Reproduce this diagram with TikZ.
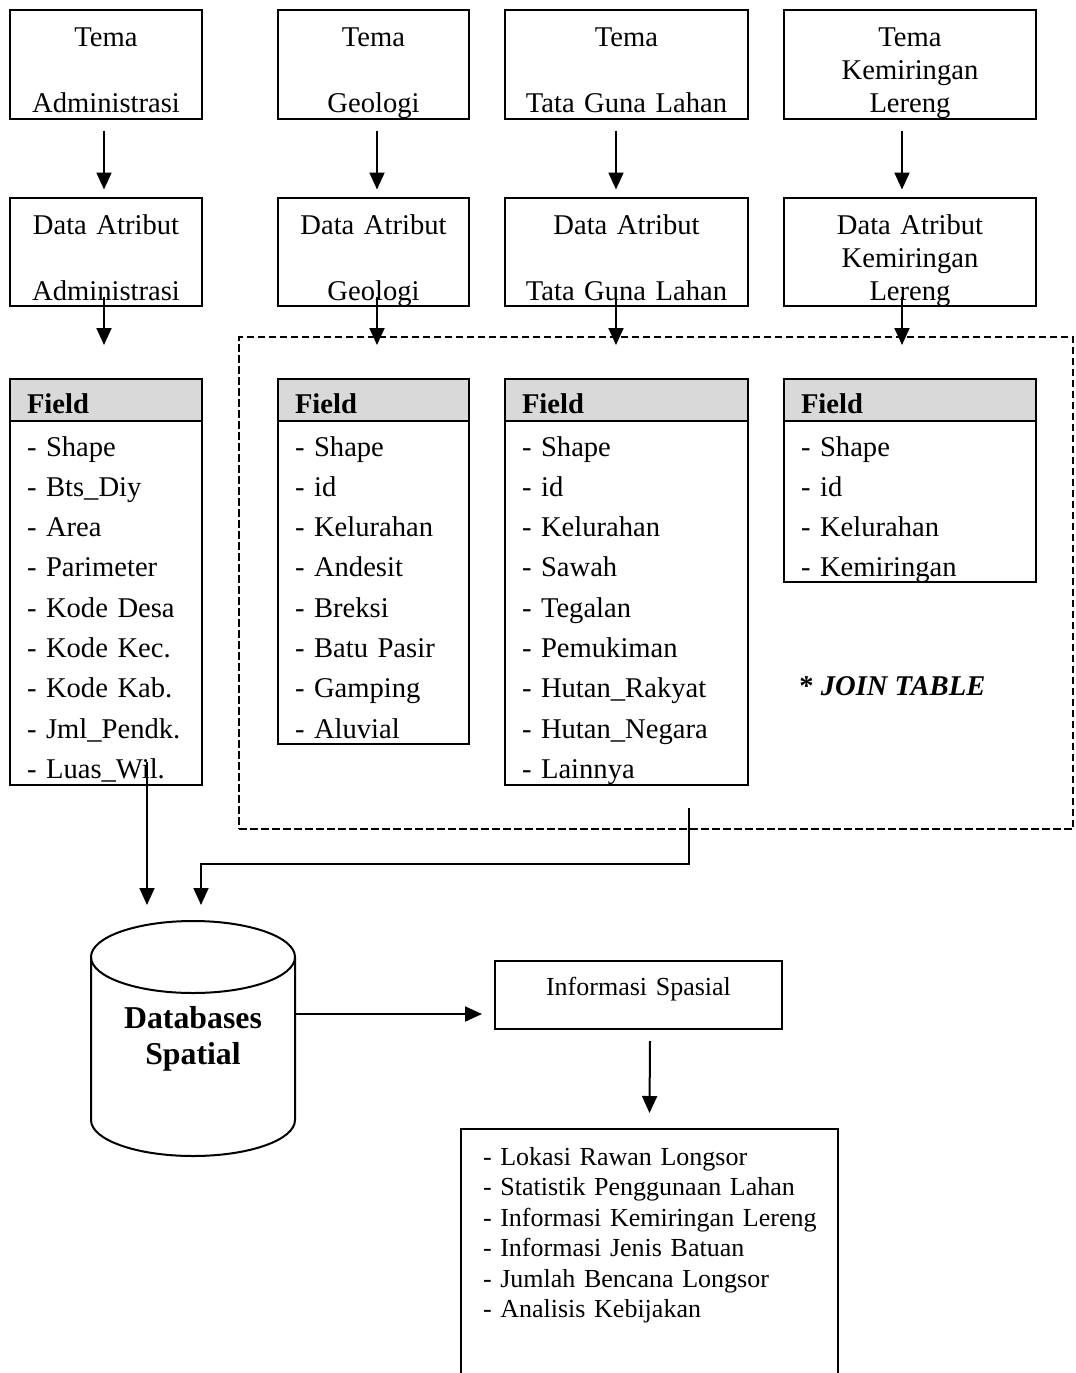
\documentclass[tikz,border=0pt]{standalone}
\usepackage{fontspec}
\setmainfont{Liberation Serif}
\usetikzlibrary{arrows.meta, positioning}

\begin{document}
\begin{tikzpicture}[
  x=0.5pt, y=-0.5pt,
  >={Triangle[length=8.5pt, width=7.5pt]},
  arr/.style={draw=black, line width=1pt, ->},
  link/.style={draw=black, line width=0.9pt, ->},
  tema/.style={rectangle, draw=black, line width=1pt, inner sep=0pt, outer sep=0pt,
    align=center, text height=18.25pt, text depth=36pt,
    font=\fontsize{14.3}{16.5}\selectfont},
  fhead/.style={rectangle, draw=black, line width=1pt, fill=gray!30, outer sep=0pt,
    inner xsep=8.5pt, inner ysep=0pt, align=left, text height=17pt, text depth=4pt,
    font=\fontsize{14.3}{16.5}\selectfont\bfseries},
  fbody/.style={rectangle, draw=black, line width=1pt, inner xsep=8.5pt, outer sep=0pt,
    inner ysep=0pt, align=left, text height=17.5pt,
    font=\fontsize{14.3}{20.15}\selectfont},
  infotext/.style={font=\fontsize{13}{15.25}\selectfont},
]

% Page frame
\useasboundingbox (0,0) rectangle (1076,1373);

% === Row 1: themes ===
\node[tema, text width=96pt, anchor=north west] (temaA) at (10,10) {Tema\\\mbox{}\\Administrasi};
\node[tema, text width=95.5pt, right=38pt of temaA] (temaB) {Tema\\\mbox{}\\Geologi};
\node[tema, text width=121.5pt, right=18pt of temaB] (temaC) {Tema\\\mbox{}\\Tata Guna Lahan};
\node[tema, text width=126pt, right=18pt of temaC] (temaD) {Tema\\Kemiringan\\Lereng};

% === Row 2: attribute data ===
\node[tema, text width=96pt, below=39.5pt of temaA] (dataA) {Data Atribut\\\mbox{}\\Administrasi};
\node[tema, text width=95.5pt, below=39.5pt of temaB] (dataB) {Data Atribut\\\mbox{}\\Geologi};
\node[tema, text width=121.5pt, below=39.5pt of temaC] (dataC) {Data Atribut\\\mbox{}\\Tata Guna Lahan};
\node[tema, text width=126pt, below=39.5pt of temaD] (dataD) {Data Atribut\\Kemiringan\\Lereng};

\draw[arr] ([xshift=-1pt,yshift=-6pt]temaA.south) -- ([xshift=-1pt,yshift=4pt]dataA.north);
\draw[arr] ([xshift=1.75pt,yshift=-6pt]temaB.south) -- ([xshift=1.75pt,yshift=4pt]dataB.north);
\draw[arr] ([xshift=-5.25pt,yshift=-6pt]temaC.south) -- ([xshift=-5.25pt,yshift=4pt]dataC.north);
\draw[arr] ([xshift=-4pt,yshift=-6pt]temaD.south) -- ([xshift=-4pt,yshift=4pt]dataD.north);

% === Join area ===
\node[draw=black, line width=1pt, dash pattern=on 3.75pt off 1.75pt, minimum width=417pt,
  minimum height=246pt, inner sep=0pt, outer sep=0pt, anchor=north west] (join) at (239,337) {};
\node[font=\fontsize{14.3}{16.5}\selectfont\bfseries, inner sep=0pt, anchor=base west]
  (jointag) at (799,695) {* \textit{JOIN TABLE}};

% === Row 3: field tables ===
\node[fhead, text width=79pt, below=36.5pt of dataA] (fieldA) {Field};
\node[fbody, text width=79pt, text depth=164.5pt, below=0pt of fieldA] (listA)
  {- Shape\\- Bts\_Diy\\- Area\\- Parimeter\\- Kode Desa\\- Kode Kec.\\- Kode Kab.\\- Jml\_Pendk.\\- Luas\_Wil.};

\node[fhead, text width=78.5pt, below=36.5pt of dataB] (fieldB) {Field};
\node[fbody, text width=78.5pt, text depth=144pt, below=0pt of fieldB] (listB)
  {- Shape\\- id\\- Kelurahan\\- Andesit\\- Breksi\\- Batu Pasir\\- Gamping\\- Aluvial};

\node[fhead, text width=104.5pt, below=36.5pt of dataC] (fieldC) {Field};
\node[fbody, text width=104.5pt, text depth=164.5pt, below=0pt of fieldC] (listC)
  {- Shape\\- id\\- Kelurahan\\- Sawah\\- Tegalan\\- Pemukiman\\- Hutan\_Rakyat\\- Hutan\_Negara\\- Lainnya};

\node[fhead, text width=109pt, below=36.5pt of dataD] (fieldD) {Field};
\node[fbody, text width=109pt, text depth=63pt, below=0pt of fieldD] (listD)
  {- Shape\\- id\\- Kelurahan\\- Kemiringan};

\draw[arr] ([xshift=-1pt,yshift=4.5pt]dataA.south) -- ([xshift=-1pt,yshift=17pt]fieldA.north);
\draw[arr] ([xshift=1.75pt,yshift=4.5pt]dataB.south) -- ([xshift=1.75pt,yshift=17pt]fieldB.north);
\draw[arr] ([xshift=-5.25pt,yshift=4.5pt]dataC.south) -- ([xshift=-5.25pt,yshift=17pt]fieldC.north);
\draw[arr] ([xshift=-4pt,yshift=4.5pt]dataD.south) -- ([xshift=-4pt,yshift=17pt]fieldD.north);

% === Spatial database ===
\node[inner sep=0pt, outer sep=0pt, text width=102pt, align=center, text height=53.5pt, text depth=64pt,
  font=\fontsize{15.9}{18}\selectfont\bfseries, anchor=north west] (db) at (91,921) {Databases\\Spatial};
\draw[line width=1pt] ([yshift=-18pt]db.north) ellipse [x radius=51pt, y radius=18pt];
\draw[line width=1pt] ([yshift=-18pt]db.north west) -- ([yshift=18pt]db.south west)
  arc[start angle=180, end angle=360, x radius=51pt, y radius=18pt] -- ([yshift=-18pt]db.north east);

\draw[link] ([xshift=20.5pt,yshift=11.5pt]listA.south) -- ([xshift=-23pt,yshift=8pt]db.north);
\draw[link] ([xshift=16.5pt,yshift=10.5pt]join.south) |- ([xshift=4pt,yshift=28.5pt]db.north)
  -- ([xshift=4pt,yshift=8pt]db.north);

% === Output ===
\node[rectangle, draw=black, line width=1pt, infotext, inner sep=0pt, outer sep=0pt, text width=143.5pt,
  align=center, text height=17pt, text depth=17pt, anchor=north west] (info) at (495,961) {Informasi Spasial};

\coordinate (dbout) at ([yshift=-46.5pt]db.north east);
\draw[arr, shorten >=6.5pt] (dbout) -- (dbout -| info.west);

\node[infotext, inner xsep=11pt, inner ysep=0pt, outer sep=0pt, text width=166.5pt, align=left,
  text height=18pt, text depth=100pt, anchor=north west] (out) at (461,1129)
  {- Lokasi Rawan Longsor\\- Statistik Penggunaan Lahan\\\mbox{- Informasi Kemiringan Lereng}\\- Informasi Jenis Batuan\\- Jumlah Bencana Longsor\\- Analisis Kebijakan};
\draw[line width=1pt] (out.north west |- 0,1373) -- (out.north west) -- (out.north east) -- (out.north east |- 0,1373);

\draw[arr] ([xshift=5.75pt,yshift=-6pt]info.south) -- ([yshift=8pt]out.north);

\end{tikzpicture}
\end{document}
